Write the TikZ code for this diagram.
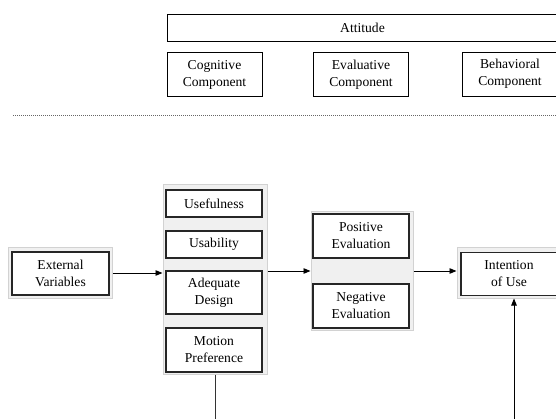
\documentclass[tikz,border=0pt]{standalone}
\usepackage{fontspec}
\setmainfont{Liberation Serif}
\usetikzlibrary{arrows.meta}
\begin{document}
\begin{tikzpicture}[x=1pt, y=-1pt,
    txt/.style={font=\fontsize{13.6}{17}\selectfont, align=center, inner sep=0pt},
    comp/.style={txt, draw=black, line width=0.8pt, fill=white, minimum width=95pt, minimum height=44pt},
    factor/.style={txt, draw=black!85, line width=1.2pt, fill=white, minimum width=96pt},
    panel/.style={draw=gray!35, fill=gray!12, line width=1pt, inner sep=0pt},
    link/.style={line width=0.9pt, -{Triangle[length=7pt,width=5.5pt]}}]

% Canvas
\clip (0,0) rectangle (556,419);
\fill[white] (0,0) rectangle (556,419);

% Attitude and its components
\node[comp, minimum width=391pt, minimum height=27pt] (att) at (362.5,27.5) {Attitude};
\node[comp] (cog) at (214.5,74.5) {Cognitive\\Component};
\node[comp] (eva) at (361,74.5) {Evaluative\\Component};
\node[comp] (beh) at (510,74) {Behavioral\\Component};

% Separator
\draw[gray!80!black, line width=1pt, dash pattern=on 1pt off 1pt] (13,116) -- (556,116);

% Gray panels
\node[panel, minimum width=104pt, minimum height=189pt] (p1) at (215,279.5) {};
\node[panel, minimum width=102pt, minimum height=118pt] (p2) at (362,271) {};
\node[panel, minimum width=104pt, minimum height=50pt] (ext) at (60.5,273) {};
\node[panel, minimum width=104pt, minimum height=50pt] (intent) at (509,273) {};

% External variables
\node[factor, minimum width=97pt, minimum height=43pt] (extbox) at (60.5,273.5) {External\\Variables};

% Perceived factors
\node[factor, minimum height=27pt] (use) at (214,203.5) {Usefulness};
\node[factor, minimum height=27pt] (usa) at (214,244.5) {Usability};
\node[factor, minimum height=43pt] (des) at (214,292.5) {Adequate\\Design};
\node[factor, minimum height=44pt] (mot) at (214,350) {Motion\\Preference};

% Evaluation
\node[factor, minimum height=44pt] (pos) at (361,236) {Positive\\Evaluation};
\node[factor, minimum height=44pt] (neg) at (361,306) {Negative\\Evaluation};

% Intention
\node[factor, minimum width=96pt, minimum height=43pt] (intbox) at (509,274) {Intention\\of Use};

% Connectors
\draw[link] (ext.east) -- (ext.east -| p1.west);
\draw[link] (p2.west -| p1.east) -- (p2.west);
\draw[link] (p2.east) -- (p2.east -| intent.west);
\coordinate (down) at (215,425);
\draw[line width=0.9pt, black!80] (p1.south) -- (down);
\coordinate (up) at (514,425);
\draw[link] (up) -- (up |- intent.south);

\end{tikzpicture}
\end{document}
